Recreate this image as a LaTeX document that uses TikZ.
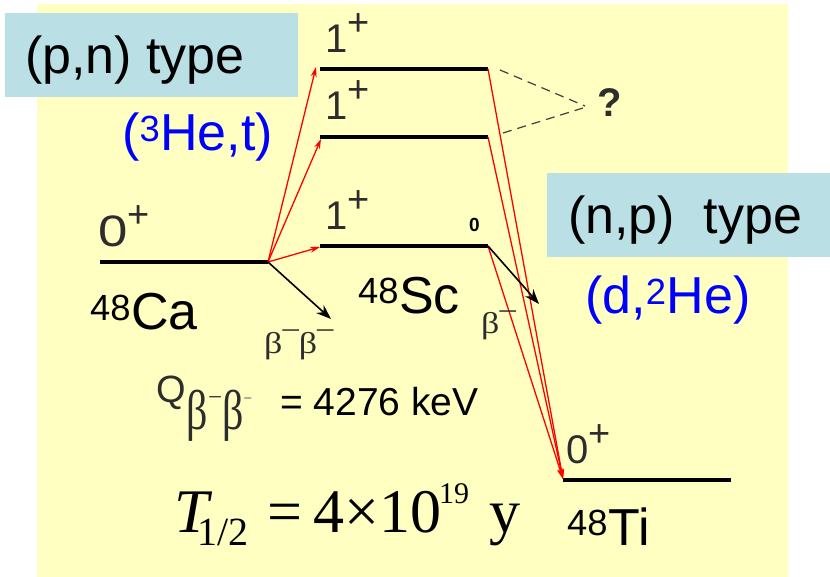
\documentclass[tikz,border=0pt]{standalone}
\usepackage{fontspec}
\setmainfont{Liberation Sans}
\newfontfamily\tnr{Liberation Serif}
\newfontfamily\widesans[FakeStretch=1.2]{Liberation Sans}
\newfontfamily\wideserif[FakeStretch=1.2]{Liberation Serif}
\newfontfamily\narrowserif[FakeStretch=0.75]{Liberation Serif}
\usetikzlibrary{arrows.meta}
\definecolor{bgyellow}{RGB}{255,255,194}
\definecolor{boxblue}{RGB}{186,223,228}
\definecolor{lblue}{RGB}{0,0,255}
\definecolor{lgray}{RGB}{45,45,45}
\newcommand{\plusup}{\raisebox{17pt}{+}}
\newcommand{\mnsup}[1]{\raisebox{#1}{−}}
\begin{document}
\begin{tikzpicture}[x=1pt,y=-1pt,
  level/.style={line width=3.5pt, black},
  redarrow/.style={red, line width=1.3pt, -{Stealth[length=10pt,width=6pt]}},
  blackarrow/.style={black, line width=1.6pt, -{Stealth[length=15pt,width=11pt]}},
  qdash/.style={black!75, line width=1.2pt, dash pattern=on 9pt off 6pt},
  big/.style={font=\fontsize{52}{58}\selectfont, inner sep=0pt, anchor=base west},
  mid/.style={font=\fontsize{39}{46}\selectfont, inner sep=0pt, anchor=base west},
  spin/.style={font=\fontsize{40}{46}\selectfont, text=lgray, inner sep=0pt, anchor=base west},
  betalab/.style={font=\wideserif\fontsize{30}{34}\selectfont, text=lgray, inner sep=0pt, anchor=base west},
  tpart/.style={font=\tnr\fontsize{62}{66}\selectfont, inner sep=0pt, anchor=base west}
]
\useasboundingbox (0,0) rectangle (830,577);
\fill[white] (0,0) rectangle (830,577);
\fill[bgyellow] (37,4) rectangle (788,577);
% blue boxes
\fill[boxblue] (5,13) rectangle (298,97);
\fill[boxblue] (547,173) rectangle (830,257);
% level coordinates
\coordinate (ca1) at (100,262); \coordinate (ca2) at (268,262);
\coordinate (sa1) at (320,69);  \coordinate (sa2) at (488,69);
\coordinate (sb1) at (320,137); \coordinate (sb2) at (488,137);
\coordinate (sc1) at (320,246); \coordinate (sc2) at (488,246);
\coordinate (ti1) at (563,480); \coordinate (ti2) at (731,480);
% levels
\draw[level] (ca1) -- (ca2);
\draw[level] (sa1) -- (sa2);
\draw[level] (sb1) -- (sb2);
\draw[level] (sc1) -- (sc2);
\draw[level] (ti1) -- (ti2);
% tips
\coordinate (ta) at (316,67);
\coordinate (tb) at (321,139);
\coordinate (tc) at (320,247);
\coordinate (tti) at (563,479);
\coordinate (bbend) at (331,319);
\coordinate (bend) at (539,304);
% red arrows (p,n)
\draw[redarrow] (ca2) -- (ta);
\draw[redarrow] (ca2) -- (tb);
\draw[redarrow] (ca2) -- (tc);
% red arrows (n,p)
\draw[redarrow] (sa2) -- (tti);
\draw[redarrow] (sb2) -- (tti);
\draw[redarrow] (sc2) -- (tti);
% black arrows
\draw[blackarrow] (ca2) -- (bbend);
\draw[blackarrow] (sc2) -- (bend);
% question mark and dashed lines
\node[font=\bfseries\fontsize{40}{44}\selectfont, text=lgray, inner sep=0pt] (q) at (610,103) {?};
\coordinate (da) at (500,70);
\coordinate (db) at (503,133);
\coordinate (qa) at (585,106);
\coordinate (qb) at (583,108);
\draw[qdash] (da) -- (qa);
\draw[qdash] (db) -- (qb);
% texts
\node[big] (pn) at (25,74) {(p,n) type};
\node[big, text=lblue] (het) at (122,151) {(\textsuperscript{3}He,t)};
\node[big] (np) at (568,234) {(n,p)\ \ type};
\node[big, text=lblue] (dhe) at (585,314) {(d,\textsuperscript{2}He)};
\node[big] (ca) at (90,330) {\textsuperscript{48}Ca};
\node[big] (sc) at (358,313) {\textsuperscript{48}Sc};
\node[big] (ti) at (567,545) {\textsuperscript{48}Ti};
% spins
\node[spin] (s1) at (325,53) {1{\fontsize{38}{40}\selectfont\plusup}};
\node[spin] (s2) at (325,120) {1{\fontsize{38}{40}\selectfont\plusup}};
\node[spin] (s3) at (325,230) {1{\fontsize{38}{40}\selectfont\plusup}};
\node[spin] (s0) at (98,247) {{\widesans\fontsize{44}{46}\selectfont 0}{\fontsize{38}{40}\selectfont\raisebox{19pt}{+}}};
\node[spin] (st) at (566,463) {0{\fontsize{38}{40}\selectfont\plusup}};
\node[font=\bfseries\fontsize{19}{22}\selectfont, inner sep=0pt, anchor=base west] (zero) at (469,232) {0};
% beta labels
\node[betalab] (bb) at (264,353) {β\hspace{-2pt}\mnsup{0.42em}\hspace{-2pt}β\hspace{-2pt}\mnsup{0.42em}};
\node[betalab] (b1) at (481,334) {β\hspace{-2pt}\mnsup{0.42em}};
% Q value
\node[font=\fontsize{38}{42}\selectfont, text=lgray, inner sep=0pt, anchor=base west] (qv) at (156,402)
  {Q\hspace{1pt}\raisebox{-27pt}{\narrowserif\fontsize{56}{60}\selectfont β{\tnr\fontsize{25}{28}\selectfont\raisebox{24pt}{−}}β{\tnr\fontsize{15}{18}\selectfont\raisebox{26pt}{−}}}};
\node[mid] (qval) at (280,415) {= 4276 keV};
% half-life
\node[tpart] (tt) at (174,532) {\itshape T\upshape\hspace{-11.5pt}\raisebox{-13pt}{\fontsize{40}{44}\selectfont 1/2}};
\node[tpart] (teq) at (267,532) {=};
\node[tpart] (tnum) at (313,532) {4×10};
\node[font=\tnr\fontsize{30}{34}\selectfont, inner sep=0pt, anchor=base west] (texp) at (439,503) {19};
\node[tpart] (ty) at (489,532) {y};
\end{tikzpicture}
\end{document}
